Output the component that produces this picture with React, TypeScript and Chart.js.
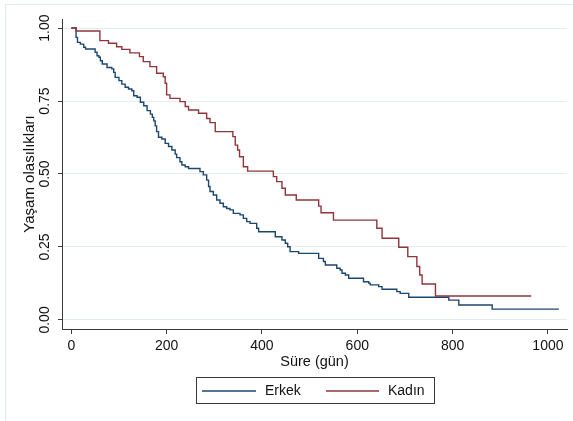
import React, { useEffect, useRef } from "react";
import { Chart, registerables } from "chart.js";

Chart.register(...registerables);

const seriesLabels = ["Erkek", "Kadın"];
const xTitle = "Süre (gün)";
const yTitle = "Yaşam olasılıkları";
const xTicks = [0, 200, 400, 600, 800, 1000];
const yTicks = [0, 0.25, 0.5, 0.75, 1];

const erkekDays = [0, 10, 13, 19, 26, 30, 50, 54, 58, 61, 65, 75, 85, 89, 92, 100, 106, 113, 120, 127, 131, 138, 145, 152, 159, 166, 170, 173, 176, 179, 183, 190, 197, 204, 211, 218, 221, 228, 232, 239, 246, 270, 277, 284, 288, 291, 298, 305, 312, 319, 326, 333, 340, 354, 361, 368, 375, 389, 393, 428, 442, 449, 454, 459, 477, 519, 529, 533, 557, 564, 568, 575, 582, 613, 624, 627, 645, 652, 683, 690, 708, 792, 813, 883, 1023];
const erkekSurv = [1, 0.968, 0.951, 0.945, 0.934, 0.928, 0.917, 0.905, 0.9, 0.888, 0.877, 0.865, 0.86, 0.848, 0.831, 0.82, 0.808, 0.797, 0.791, 0.785, 0.768, 0.763, 0.746, 0.734, 0.717, 0.705, 0.694, 0.682, 0.665, 0.645, 0.626, 0.62, 0.605, 0.594, 0.582, 0.568, 0.556, 0.542, 0.531, 0.525, 0.519, 0.508, 0.497, 0.479, 0.457, 0.44, 0.428, 0.411, 0.4, 0.388, 0.382, 0.377, 0.365, 0.36, 0.348, 0.337, 0.331, 0.314, 0.302, 0.285, 0.274, 0.263, 0.251, 0.234, 0.228, 0.211, 0.2, 0.188, 0.177, 0.171, 0.16, 0.154, 0.143, 0.131, 0.126, 0.12, 0.114, 0.105, 0.097, 0.091, 0.078, 0.068, 0.051, 0.037, 0.037];

const kadinDays = [0, 10, 60, 78, 95, 106, 123, 143, 151, 165, 179, 193, 197, 200, 207, 228, 239, 246, 267, 284, 291, 302, 339, 344, 349, 353, 361, 370, 424, 431, 442, 449, 472, 519, 524, 550, 641, 652, 687, 706, 725, 731, 736, 764, 965];
const kadinSurv = [1, 0.99, 0.957, 0.948, 0.936, 0.927, 0.915, 0.902, 0.885, 0.868, 0.845, 0.833, 0.811, 0.771, 0.759, 0.748, 0.731, 0.719, 0.708, 0.69, 0.676, 0.645, 0.628, 0.599, 0.582, 0.559, 0.525, 0.51, 0.491, 0.474, 0.451, 0.428, 0.411, 0.39, 0.367, 0.342, 0.314, 0.28, 0.249, 0.217, 0.183, 0.154, 0.123, 0.082, 0.082];

const BLUE = "#1a476f";
const RED = "#90353b";
const AXIS = "#3a3a3a";
const TEXT = "#111111";
const GRID = "#e4ecee";
const FONT = "'Liberation Sans', Arial, sans-serif";

const framePlugin = {
  id: "frameLegend",
  beforeDraw(chart: any) {
    const { ctx, width, height } = chart;
    ctx.save();
    ctx.fillStyle = "#ffffff";
    ctx.fillRect(0, 0, width, height);
    ctx.strokeStyle = "#e2eaed";
    ctx.lineWidth = 1;
    ctx.beginPath();
    ctx.moveTo(5.5, height);
    ctx.lineTo(5.5, 4.5);
    ctx.lineTo(width, 4.5);
    ctx.stroke();
    ctx.restore();
  },
  afterDraw(chart: any) {
    const { ctx, chartArea } = chart;
    const cx = (chartArea.left + chartArea.right) / 2;
    const boxL = Math.round(cx - 119);
    const boxT = 377;
    const boxW = 238;
    const boxH = 26;
    const midY = boxT + 14;
    ctx.save();
    ctx.strokeStyle = AXIS;
    ctx.lineWidth = 1;
    ctx.strokeRect(boxL + 0.5, boxT + 0.5, boxW, boxH);
    const offsets = [
      { l: 6, r: 60, t: 69 },
      { l: 130, r: 183, t: 192 },
    ];
    chart.data.datasets.forEach((ds: any, i: number) => {
      const o = offsets[i];
      ctx.strokeStyle = ds.borderColor;
      ctx.lineWidth = ds.borderWidth;
      ctx.beginPath();
      ctx.moveTo(boxL + o.l, midY);
      ctx.lineTo(boxL + o.r, midY);
      ctx.stroke();
      ctx.fillStyle = TEXT;
      ctx.font = `14px ${FONT}`;
      ctx.textBaseline = "middle";
      ctx.textAlign = "left";
      ctx.fillText(ds.label, boxL + o.t, midY);
    });
    ctx.restore();
  },
};

export default function App() {
  const ref = useRef<HTMLCanvasElement>(null);
  useEffect(() => {
    document.body.style.margin = "0";
    const canvas = ref.current!;
    const chart = new Chart(canvas, {
      type: "line",
      data: {
        datasets: [
          {
            label: seriesLabels[0],
            data: erkekDays.map((d, i) => ({ x: d, y: erkekSurv[i] })),
            borderColor: BLUE,
            backgroundColor: BLUE,
            borderWidth: 1.4,
            pointRadius: 0,
            stepped: "before",
            fill: false,
            order: 1,
          },
          {
            label: seriesLabels[1],
            data: kadinDays.map((d, i) => ({ x: d, y: kadinSurv[i] })),
            borderColor: RED,
            backgroundColor: RED,
            borderWidth: 1.4,
            pointRadius: 0,
            stepped: "before",
            fill: false,
            order: 0,
          },
        ],
      },
      options: {
        animation: false,
        responsive: false,
        devicePixelRatio: 1,
        layout: { padding: { left: 0, right: 6, top: 19, bottom: 47 } },
        plugins: { legend: { display: false }, tooltip: { enabled: false } },
        scales: {
          x: {
            type: "linear",
            min: -19.5,
            max: 1040,
            afterBuildTicks: (s: any) => {
              s.ticks = xTicks.map((v) => ({ value: v }));
            },
            afterFit: (s: any) => {
              s.height = 45;
              s.paddingLeft = 0;
              s.paddingRight = 0;
            },
            ticks: {
              autoSkip: false,
              maxRotation: 0,
              minRotation: 0,
              padding: 4,
              color: TEXT,
              font: { family: FONT, size: 14 },
              callback: (v: any) => String(v),
            },
            grid: {
              drawOnChartArea: false,
              drawTicks: true,
              tickLength: 5,
              tickColor: AXIS,
              tickWidth: 1,
            },
            border: { display: true, color: AXIS, width: 1 },
            title: {
              display: true,
              text: xTitle,
              color: TEXT,
              font: { family: FONT, size: 14.5 },
              padding: { top: 0, bottom: 3 },
            },
          },
          y: {
            type: "linear",
            min: -0.031,
            max: 1.031,
            afterBuildTicks: (s: any) => {
              s.ticks = yTicks.map((v) => ({ value: v }));
            },
            afterFit: (s: any) => {
              s.width = 62;
              s.paddingTop = 0;
              s.paddingBottom = 0;
            },
            ticks: {
              autoSkip: false,
              minRotation: 90,
              maxRotation: 90,
              crossAlign: "center",
              padding: -1,
              color: TEXT,
              font: { family: FONT, size: 14 },
              callback: (v: any) => Number(v).toFixed(2),
            },
            grid: {
              color: GRID,
              lineWidth: 1,
              drawTicks: true,
              tickLength: 4,
              tickColor: AXIS,
              tickWidth: 1,
            },
            border: { display: true, color: AXIS, width: 1 },
            title: {
              display: true,
              text: yTitle,
              color: TEXT,
              font: { family: FONT, size: 15 },
              padding: { top: 21, bottom: 0 },
            },
          },
        },
      },
      plugins: [framePlugin],
    } as any);
    return () => chart.destroy();
  }, []);
  return (
    <div style={{ width: 573, height: 421 }}>
      <canvas ref={ref} width={573} height={421} style={{ display: "block" }} />
    </div>
  );
}
